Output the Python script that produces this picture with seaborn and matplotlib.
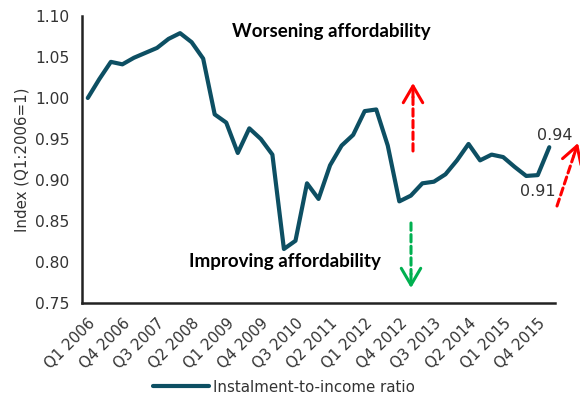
import matplotlib
matplotlib.use("Agg")
import matplotlib.pyplot as plt
import seaborn as sns
import numpy as np
import pandas as pd

quarters = [f"Q{q} {y}" for y in range(2006, 2017) for q in range(1, 5)][:41]
values = [1.000, 1.023, 1.044, 1.041, 1.049, 1.055, 1.061, 1.072, 1.079, 1.068,
          1.048, 0.980, 0.970, 0.933, 0.963, 0.950, 0.931, 0.816, 0.826, 0.896,
          0.877, 0.918, 0.942, 0.955, 0.984, 0.986, 0.942, 0.874, 0.881, 0.896,
          0.898, 0.907, 0.924, 0.944, 0.924, 0.931, 0.928, 0.916, 0.905, 0.906,
          0.940]
series_name = "Instalment-to-income ratio"
yticks = [0.75, 0.80, 0.85, 0.90, 0.95, 1.00, 1.05, 1.10]

sns.set_style("white")
plt.rcParams['font.family'] = ['DejaVu Sans']

df = pd.DataFrame({"idx": np.arange(len(values)), "value": values,
                   "series": series_name})

fig = plt.figure(figsize=(5.8, 4.08), dpi=100)
ax = fig.add_axes([0.1414, 0.257, 0.8156, 0.704])
line_color = "#0D4F63"
sns.lineplot(data=df, x="idx", y="value", hue="series", palette=[line_color],
             linewidth=3.0, ax=ax)

txt_color = "#333333"
ax.set_xlim(-0.5, len(values) - 0.5)
ax.set_ylim(0.75, 1.10)
ax.set_yticks(yticks)
ax.set_yticklabels([f"{t:.2f}" for t in yticks], fontsize=11.2, color=txt_color)
ax.set_xticks(np.arange(0, len(values), 3))
ax.set_xticklabels([quarters[i] for i in range(0, len(values), 3)], rotation=45,
                   ha="right", rotation_mode="anchor", fontsize=10.8, color=txt_color)
ax.set_xticks(np.arange(-0.5, len(values), 1), minor=True)
ax.tick_params(axis="x", which="major", length=0, pad=9)
ax.tick_params(axis="x", which="minor", length=5, width=1.8, direction="out", color="#222222")
ax.tick_params(axis="y", length=5, width=1.8, direction="out", color="#222222", pad=4)
ax.set_xlabel("")
ax.set_ylabel("Index (Q1:2006=1)", fontsize=10.8, color=txt_color, labelpad=4)
for s in ["top", "right"]:
    ax.spines[s].set_visible(False)
for s in ["left", "bottom"]:
    ax.spines[s].set_linewidth(1.8)
    ax.spines[s].set_color("#222222")

# annotations
ax.text(0.527, 0.944, "Worsening affordability", transform=ax.transAxes,
        ha="center", va="center", fontsize=13.5, fontweight="bold",
        family=["Lato", "DejaVu Sans"], color="black")
ax.text(0.43, 0.144, "Improving affordability", transform=ax.transAxes,
        ha="center", va="center", fontsize=13.5, fontweight="bold",
        family=["Lato", "DejaVu Sans"], color="black")

def fig_pt(px, py):
    return (px / 580.0, 1 - py / 408.0)

def dashed_arrow(start, end, color):
    sx, sy = start
    ex, ey = end
    d = np.hypot(ex - sx, ey - sy)
    ux, uy = (ex - sx) / d, (ey - sy) / d
    mid = (ex - ux * 14, ey - uy * 14)
    ax.annotate("", xy=fig_pt(*mid), xytext=fig_pt(*start), xycoords="figure fraction",
                textcoords="figure fraction", annotation_clip=False,
                arrowprops=dict(arrowstyle="-", color=color, lw=2.2,
                                linestyle=(0, (2.4, 1.4)), shrinkA=0, shrinkB=0))
    ax.annotate("", xy=fig_pt(*end), xytext=fig_pt(*mid), xycoords="figure fraction",
                textcoords="figure fraction", annotation_clip=False,
                arrowprops=dict(arrowstyle="->,head_length=1.2,head_width=0.7",
                                color=color, lw=2.2, shrinkA=0, shrinkB=0))

dashed_arrow((413, 151), (413, 83), "#FF0000")
dashed_arrow((411, 223), (411, 288), "#00B050")
dashed_arrow((557, 206), (578, 143), "#FF0000")

ax.text(len(values) - 1 + 0.5, values[-1] + 0.005, f"{values[-1]:.2f}", ha="center",
        va="bottom", fontsize=11.5, color=txt_color)
ax.text(len(values) - 2 + 0.0, values[-2] - 0.011, f"{values[-2]:.2f}", ha="center",
        va="top", fontsize=11.5, color=txt_color)

leg = ax.legend(loc="lower center", frameon=False, fontsize=10.8, handlelength=3.7,
                handletextpad=0.3)
leg.set_bbox_to_anchor((0.49, 0.0), transform=fig.transFigure)
for t in leg.get_texts():
    t.set_color(txt_color)

fig.savefig("out.png", dpi=100)
